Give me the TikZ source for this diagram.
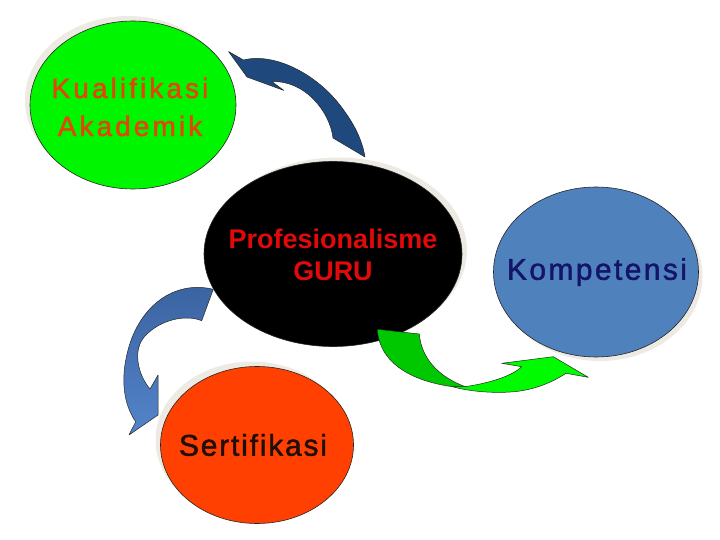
\documentclass[tikz,border=0pt]{standalone}
\usepackage{fontspec}
\setmainfont{Liberation Sans}
\newfontfamily\kualfont[LetterSpace=11, FakeBold=1.5]{Liberation Sans}
\newfontfamily\kompfont[LetterSpace=8, FakeBold=1.5]{Liberation Sans}
\newfontfamily\sertfont[LetterSpace=6, FakeBold=1.5]{Liberation Sans}
\usetikzlibrary{shapes.geometric}

\definecolor{cream}{RGB}{236,234,226}
\definecolor{kualgreen}{RGB}{0,245,0}
\definecolor{kompblue}{RGB}{79,129,189}
\definecolor{sertred}{RGB}{255,64,0}
\definecolor{kualtext}{RGB}{228,68,8}
\definecolor{proftext}{RGB}{225,10,10}
\definecolor{komptext}{RGB}{20,20,105}
\definecolor{serttext}{RGB}{30,15,10}
\definecolor{arrowdark}{RGB}{31,73,125}
\definecolor{arrowtop}{RGB}{58,98,160}
\definecolor{arrowbot}{RGB}{84,132,202}
\definecolor{greendark}{RGB}{0,200,0}
\definecolor{greenlight}{RGB}{0,250,0}

\begin{document}
\begin{tikzpicture}[x=1pt, y=-1pt,
    blob/.style={ellipse, draw=black!85, line width=0.6pt},
    halo/.style={ellipse, fill=cream},
    arrowline/.style={draw=black!85, line width=0.5pt, line join=round}]
    \useasboundingbox (0,0) rectangle (720,540);

    % soft shadows behind the four circles
    \node[halo, minimum width=206pt, minimum height=168pt] (kualhalo) at (128,100) {};
    \node[halo, minimum width=258pt, minimum height=185pt] (profhalo) at (338,250) {};
    \node[halo, minimum width=205pt, minimum height=170pt] (komphalo) at (600,276) {};
    \node[halo, minimum width=193pt, minimum height=157pt] (serthalo) at (252,440) {};

    % the circles
    \node[blob, fill=kualgreen, minimum width=206pt, minimum height=168pt] (kual) at (133,105) {};
    \node[blob, fill=black, minimum width=258pt, minimum height=185pt] (prof) at (333,254) {};
    \node[blob, fill=kompblue, minimum width=205pt, minimum height=170pt] (komp) at (596,272) {};
    \node[blob, fill=sertred, minimum width=193pt, minimum height=157pt] (sert) at (257,445) {};

    % labels
    \node[text=kualtext, align=center, font=\kualfont\fontsize{28}{38}\selectfont] (kualtxt) at (130,107) {Kualifikasi\\Akademik};
    \node[text=proftext, align=center, font=\bfseries\fontsize{27}{32}\selectfont] (proftxt) at (333,255) {Profesionalisme\\GURU};
    \node[text=komptext, font=\kompfont\fontsize{30}{32}\selectfont] (komptxt) at (597,272) {Kompetensi};
    \node[text=serttext, font=\sertfont\fontsize{30}{32}\selectfont] (serttxt) at (253,445) {Sertifikasi};

    % curved arrows
    \draw[arrowline, fill=arrowdark] (228.5,51.5) -- (243.5,60)
        .. controls (275,52) and (320,75) .. (345,112)
        .. controls (358,130) and (363,145) .. (365,157) -- (333,138)
        .. controls (330,112) and (305,80) .. (272,81.7)
        -- (284,90.5) -- (247,77) -- cycle;

    \draw[arrowline, top color=arrowtop, bottom color=arrowbot] (213.3,289.3)
        .. controls (175,280) and (140,305) .. (128,350)
        .. controls (120,380) and (124,405) .. (135.7,421.7)
        -- (129,435) -- (158,415) -- (158,375) -- (150,389)
        .. controls (138,375) and (132,350) .. (145,336)
        .. controls (160,320) and (185,314) .. (201.7,320.7) -- cycle;

    \draw[arrowline, fill=greendark] (377.3,329.3) -- (419.3,334)
        .. controls (421,355) and (435,377) .. (470,388.3)
        .. controls (425,386) and (380,370) .. (377.3,329.3) -- cycle;
    \draw[arrowline, fill=greenlight] (452,386.5)
        .. controls (470,392) and (500,394) .. (520,391)
        .. controls (540,388) and (556,380) .. (566,373.3)
        -- (588.3,377.3) -- (553.3,356.7) -- (501.7,363.3) -- (521.7,366.7)
        .. controls (512,376) and (490,383) .. (466,386.5) -- cycle;
\end{tikzpicture}
\end{document}
